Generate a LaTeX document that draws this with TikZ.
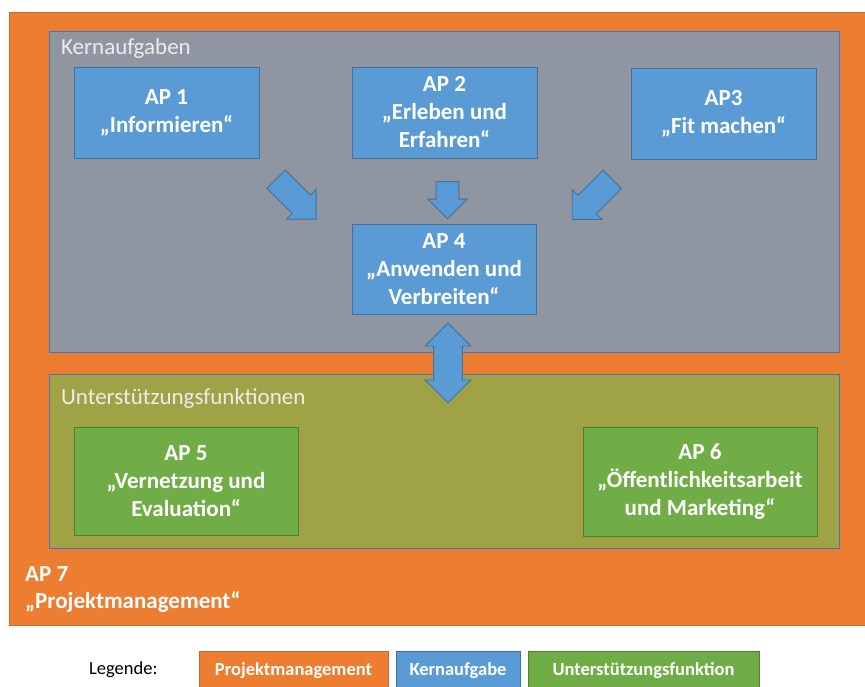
\documentclass[tikz,border=0pt]{standalone}
\usepackage{fontspec}
\setmainfont{Carlito}
\usetikzlibrary{shapes.arrows}
\definecolor{orangeC}{HTML}{ED7D31}
\definecolor{orangeB}{HTML}{C96A2A}
\definecolor{grayC}{HTML}{8F96A2}
\definecolor{oliveC}{HTML}{9FA346}
\definecolor{blueC}{HTML}{5B9BD5}
\definecolor{blueB}{HTML}{41719C}
\definecolor{frameB}{HTML}{4472C4}
\definecolor{greenC}{HTML}{70AD47}
\definecolor{greenB}{HTML}{507E32}
\definecolor{labelC}{HTML}{ECECEC}
\tikzset{
  container/.style={draw=frameB, line width=0.9pt, inner sep=0pt, outer sep=0pt},
  kbox/.style={draw=blueB, fill=blueC, line width=1pt, inner sep=2pt, outer sep=0pt,
    text=white, align=center, font=\bfseries\fontsize{23}{28}\selectfont},
  ubox/.style={draw=greenB, fill=greenC, line width=1pt, inner sep=2pt, outer sep=0pt,
    text=white, align=center, font=\bfseries\fontsize{23}{28}\selectfont},
  arrowbox/.style={single arrow, draw=blueB, fill=blueC, line width=0.9pt,
    inner xsep=0pt, outer sep=0pt, shape border uses incircle=false},
  darrowbox/.style={double arrow, draw=blueB, fill=blueC, line width=0.9pt,
    inner xsep=0pt, outer sep=0pt},
  legbox/.style={line width=0.8pt, inner sep=0pt, outer sep=0pt, anchor=north west,
    text=white, font=\bfseries\fontsize{18.5}{22}\selectfont},
  grouplabel/.style={anchor=west, inner sep=0pt, text=labelC, font=\fontsize{23}{28}\selectfont}
}
\begin{document}
\begin{tikzpicture}[x=1pt,y=-1pt]
\clip (0,0) rectangle (865,686);
\fill[white] (0,0) rectangle (865,686);
% outer AP7
\node[draw=orangeB, fill=orangeC, line width=0.9pt, inner sep=0pt, outer sep=0pt,
  minimum width=860pt, minimum height=613pt] (ap7box) at (439,318.5) {};
\node[anchor=north west, inner sep=0pt, text=white, align=left,
  font=\bfseries\fontsize{23}{27}\selectfont] (ap7) at (25,566) {AP 7\\„Projektmanagement“};
% containers
\node[container, fill=grayC, minimum width=790pt, minimum height=321pt] (kern) at (444,191.5) {};
\node[grouplabel] (kernlabel) at (61,48) {Kernaufgaben};
\node[container, fill=oliveC, minimum width=790pt, minimum height=174pt] (unter) at (444,461) {};
\node[grouplabel] (unterlabel) at (61,398) {Unterstützungsfunktionen};
% core boxes
\node[kbox, minimum width=185pt, minimum height=91pt] (ap1) at (166.5,112.5) {AP 1\\„Informieren“};
\node[kbox, minimum width=185pt, minimum height=91pt] (ap2) at (444.5,112.5) {AP 2\\„Erleben und\\Erfahren“};
\node[kbox, minimum width=185pt, minimum height=91pt] (ap3) at (723.5,113.5) {AP3\\„Fit machen“};
\node[kbox, minimum width=184pt, minimum height=90pt] (ap4) at (444,269) {AP 4\\„Anwenden und\\Verbreiten“};
% support boxes
\node[ubox, minimum width=224pt, minimum height=108pt] (ap5) at (186,481) {AP 5\\„Vernetzung und\\Evaluation“};
\node[ubox, minimum width=234pt, minimum height=109pt] (ap6) at (700,481.5) {AP 6\\„Öffentlichkeitsarbeit\\und Marketing“};
% block arrows
\node[arrowbox, minimum height=56.6pt, minimum width=42pt, inner ysep=11pt, rotate=-45] (a1) at (291.5,194.5) {};
\node[arrowbox, minimum height=37pt, minimum width=39pt, inner ysep=9.5pt, rotate=-90] (a2) at (447.5,194.5) {};
\node[arrowbox, minimum height=56.6pt, minimum width=42pt, inner ysep=11pt, rotate=-135] (a3) at (596.8,194.8) {};
\node[darrowbox, minimum height=80pt, minimum width=46pt, inner ysep=11.5pt, rotate=90] (a4) at (448,363) {};
% legend
\node[anchor=west, inner sep=0pt, font=\fontsize{18.5}{22}\selectfont] (legende) at (89,670) {Legende:};
\node[legbox, draw=orangeB, fill=orangeC, minimum width=189pt, minimum height=39pt] (leg1) at (199,651) {Projektmanagement};
\node[legbox, draw=blueB, fill=blueC, minimum width=124pt, minimum height=39pt] (leg2) at (396,651) {Kernaufgabe};
\node[legbox, draw=greenB, fill=greenC, minimum width=231pt, minimum height=39pt] (leg3) at (528,651) {Unterstützungsfunktion};
\end{tikzpicture}
\end{document}
